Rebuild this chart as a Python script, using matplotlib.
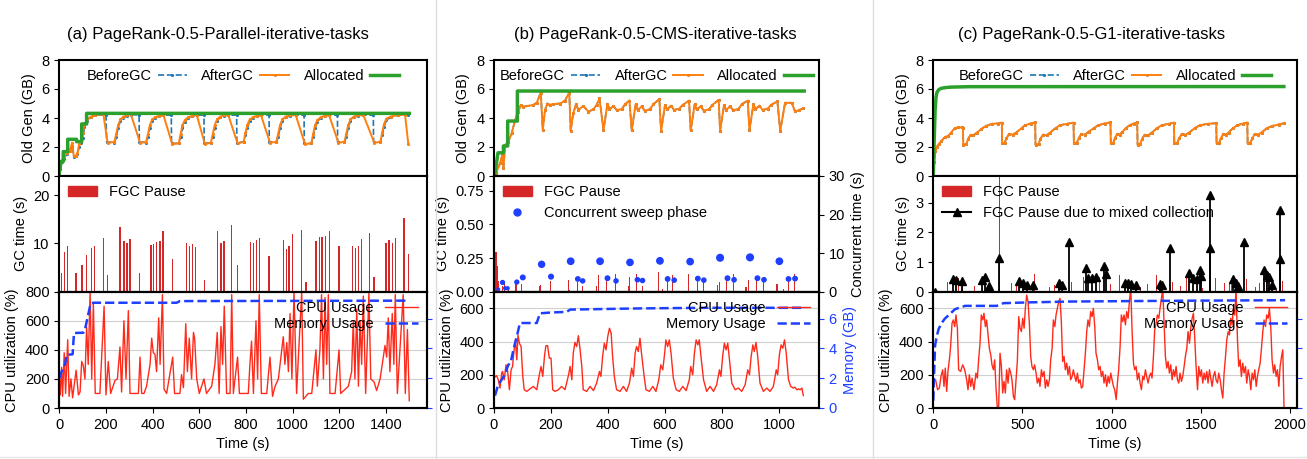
import matplotlib
matplotlib.use('Agg')
import matplotlib.pyplot as plt
from matplotlib.lines import Line2D
from matplotlib.patches import Patch

plt.rcParams['font.family'] = ['Liberation Sans', 'DejaVu Sans']
plt.rcParams['font.size'] = 10.5
plt.rcParams['axes.linewidth'] = 1.5

# ---------------- data: panel (a) Parallel ----------------
before_a_t = [0, 5, 12, 20, 32, 45, 55, 62, 70, 78, 85, 95, 102, 108, 120, 135, 155, 200, 203,
              236, 244, 252, 262, 275, 290, 307, 342, 343,
              372, 380, 388, 398, 410, 428, 446, 480, 481,
              512, 520, 528, 538, 552, 570, 589, 620, 621,
              650, 658, 666, 676, 690, 706, 724, 760, 761,
              790, 798, 806, 816, 830, 846, 864, 899, 900,
              930, 938, 946, 956, 970, 990, 1013, 1049, 1050,
              1080, 1088, 1096, 1106, 1120, 1138, 1156, 1192, 1193,
              1222, 1230, 1238, 1248, 1262, 1282, 1303, 1346, 1347,
              1376, 1384, 1392, 1402, 1420, 1450, 1496]
before_a_v = [0.0, 0.5, 1.0, 1.2, 1.5, 1.7, 2.1, 1.3, 1.35, 1.5, 2.0, 2.3, 2.6, 3.4, 3.8, 4.05, 4.2, 4.22, 2.35,
              2.3, 2.7, 3.3, 3.8, 4.0, 4.15, 4.22, 4.22, 2.35,
              2.3, 2.7, 3.3, 3.8, 4.0, 4.12, 4.2, 4.2, 2.25,
              2.25, 2.7, 3.3, 3.75, 4.0, 4.12, 4.2, 4.2, 2.25,
              2.3, 2.7, 3.3, 3.8, 4.05, 4.15, 4.2, 4.2, 2.3,
              2.35, 2.8, 3.3, 3.8, 4.0, 4.12, 4.2, 4.2, 2.35,
              2.35, 2.7, 3.3, 3.8, 4.05, 4.15, 4.2, 4.2, 2.25,
              2.25, 2.7, 3.3, 3.75, 4.0, 4.12, 4.2, 4.2, 2.35,
              2.35, 2.7, 3.3, 3.8, 4.05, 4.15, 4.2, 4.2, 2.35,
              2.35, 2.8, 3.4, 3.85, 4.05, 4.18, 4.22]
after_a_t = [0, 5, 12, 20, 32, 45, 55, 62, 70, 78, 85, 95, 102, 108, 120, 135, 155, 189,
             207, 236, 244, 252, 262, 275, 290, 307,
             346, 372, 380, 388, 398, 410, 428, 446,
             484, 512, 520, 528, 538, 552, 570, 589,
             624, 650, 658, 666, 676, 690, 706, 724,
             764, 790, 798, 806, 816, 830, 846, 864,
             903, 930, 938, 946, 956, 970, 990, 1013,
             1053, 1080, 1088, 1096, 1106, 1120, 1138, 1156,
             1196, 1222, 1230, 1238, 1248, 1262, 1282, 1303,
             1350, 1376, 1384, 1392, 1402, 1420, 1450, 1482, 1496]
after_a_v = [0.1, 0.6, 1.1, 1.3, 1.6, 1.75, 2.3, 1.4, 1.35, 1.6, 2.2, 2.4, 3.0, 3.6, 3.9, 4.1, 4.2, 4.25,
             2.3, 2.35, 2.9, 3.5, 3.9, 4.1, 4.18, 4.25,
             2.3, 2.35, 2.9, 3.5, 3.9, 4.05, 4.15, 4.22,
             2.2, 2.25, 2.9, 3.5, 3.85, 4.05, 4.15, 4.22,
             2.2, 2.3, 2.9, 3.5, 3.9, 4.1, 4.18, 4.22,
             2.25, 2.35, 3.0, 3.5, 3.9, 4.05, 4.15, 4.22,
             2.3, 2.35, 2.9, 3.5, 3.9, 4.1, 4.18, 4.22,
             2.2, 2.25, 2.9, 3.5, 3.85, 4.05, 4.15, 4.22,
             2.3, 2.35, 2.9, 3.5, 3.9, 4.1, 4.18, 4.22,
             2.3, 2.35, 3.0, 3.6, 3.95, 4.1, 4.2, 4.22, 2.2]
alloc_a_t = [0, 7, 17, 17, 36, 36, 74, 74, 96, 96, 117, 117, 1500]
alloc_a_v = [0.2, 1.0, 1.0, 1.68, 1.68, 2.53, 2.53, 2.37, 2.37, 3.59, 3.59, 4.32, 4.32]

gc_a_t = [10, 22, 36, 72, 97, 117, 139, 152, 189, 207, 260, 277, 290, 303, 343, 393, 405, 417, 432, 445,
          486, 546, 559, 572, 585, 622, 679, 693, 706, 739, 765, 820, 833, 846, 859, 899, 960, 973, 985, 999,
          1039, 1057, 1100, 1114, 1126, 1142, 1157, 1199, 1256, 1269, 1282, 1295, 1329, 1349, 1400, 1413,
          1427, 1440, 1477, 1497]
gc_a_v = [3.9, 8.3, 9.4, 3.8, 5.5, 7.7, 9.1, 9.4, 11.1, 3.5, 13.5, 10.6, 10.0, 11.0, 3.9, 9.6, 9.8, 10.3, 10.6, 12.6,
          6.8, 10.0, 9.5, 9.9, 9.3, 2.5, 12.5, 10.1, 10.6, 13.9, 5.5, 10.3, 10.2, 10.8, 11.1, 7.5, 10.8, 8.9, 9.5, 12.0,
          12.7, 2.0, 10.6, 11.3, 11.3, 11.6, 12.6, 9.4, 9.4, 9.1, 9.4, 11.0, 12.2, 3.0, 10.2, 10.7,
          10.0, 11.2, 15.2, 7.8]

cpu_a_t = [0, 4, 10, 14, 21, 27, 36, 42, 50, 57, 72, 82, 89, 96, 103, 110, 117, 124, 132, 139,
           146, 154, 174, 192, 200, 210, 220, 239, 249, 260, 267, 277, 286, 296, 303, 339, 346, 353, 363, 374,
           389, 396, 403, 410, 417, 426, 432, 442, 449, 460, 486, 494, 517, 524, 532, 542, 549, 557, 567, 575,
           580, 589, 600, 620, 631, 653, 667, 677, 685, 693, 700, 707, 717, 732, 739, 746, 764, 772, 810, 817,
           824, 832, 843, 850, 857, 866, 889, 903, 914, 925, 939, 960, 967, 975, 982, 989, 997, 1006, 1017, 1039,
           1046, 1067, 1082, 1100, 1106, 1117, 1124, 1132, 1139, 1146, 1153, 1160, 1182, 1199, 1206, 1239, 1253,
           1260, 1267, 1275, 1282, 1289, 1296, 1303, 1313, 1327, 1335, 1349, 1360, 1375, 1396, 1403, 1410, 1417,
           1427, 1434, 1440, 1449, 1474, 1483, 1492, 1500]
cpu_a_v = [220, 90, 280, 80, 380, 100, 470, 80, 200, 70, 260, 90, 110, 320, 290, 200, 560, 300, 800, 200,
           720, 100, 100, 700, 90, 320, 100, 190, 200, 420, 110, 600, 200, 670, 100, 100, 350, 100, 100, 150,
           300, 480, 380, 370, 250, 620, 300, 780, 130, 100, 350, 100, 100, 230, 140, 580, 250, 480, 200, 520,
           480, 200, 100, 200, 100, 150, 300, 520, 100, 560, 300, 700, 100, 100, 780, 100, 350, 100, 100, 300,
           460, 100, 600, 200, 780, 100, 100, 350, 80, 150, 200, 490, 300, 450, 250, 650, 200, 800, 100, 800,
           60, 100, 100, 400, 150, 400, 780, 200, 760, 300, 780, 100, 100, 400, 100, 150, 250,
           600, 200, 680, 150, 600, 300, 770, 100, 790, 200, 180, 120, 200, 430, 350, 620, 250,
           650, 300, 780, 100, 780, 100, 540, 50]
mem_a_t = [0, 10, 24, 32, 57, 63, 103, 110, 124, 134, 146, 503, 517, 1500]
mem_a_v = [2.0, 2.45, 2.9, 3.57, 3.6, 5.03, 5.05, 5.26, 6.27, 7.0, 7.06, 7.06, 7.17, 7.2]

# ---------------- data: panel (b) CMS ----------------
after_b_t = [0, 7, 21, 29, 33, 39, 50, 62, 74, 85, 94, 103, 138, 150, 164,
             171, 179, 187, 197, 208, 232, 249, 264,
             269, 278, 288, 296, 313, 331, 349, 360, 370,
             384, 398, 405, 419, 430, 448, 460, 475,
             483, 497, 504, 518, 529, 547, 559, 580,
             586, 600, 607, 621, 632, 650, 662, 684,
             690, 704, 711, 725, 736, 754, 766, 788,
             793, 807, 814, 828, 839, 857, 869, 890,
             896, 910, 917, 931, 942, 960, 972, 994,
             1004, 1021, 1044, 1056, 1071, 1085]
after_b_v = [0.0, 0.2, 0.87, 1.45, 0.53, 2.14, 2.37, 2.94, 3.86, 4.44, 4.9, 4.78, 4.9, 5.06, 5.75,
             3.17, 4.55, 5.0, 4.9, 4.96, 5.0, 5.2, 5.75,
             3.12, 4.32, 4.96, 4.55, 4.83, 4.44, 4.6, 4.9, 5.35,
             3.17, 4.99, 4.6, 4.83, 4.55, 4.6, 4.96, 5.2,
             3.17, 4.95, 4.55, 4.8, 4.5, 4.6, 4.95, 5.3,
             3.1, 4.9, 4.6, 4.85, 4.55, 4.65, 4.9, 5.2,
             3.15, 4.95, 4.6, 4.8, 4.5, 4.6, 4.9, 5.25,
             3.12, 4.9, 4.55, 4.8, 4.55, 4.6, 4.95, 5.2,
             3.15, 4.95, 4.6, 4.85, 4.55, 4.65, 4.9, 5.15,
             3.1, 5.05, 5.05, 4.45, 4.55, 4.67]
# BeforeGC and AfterGC coincide in this run
before_b_t = after_b_t
before_b_v = after_b_v
alloc_b_t = [2, 14, 33, 33, 48, 48, 82, 82, 1088]
alloc_b_v = [0, 1.6, 1.6, 2.07, 2.07, 3.79, 3.79, 5.86, 5.86]

gc_b_t = [7, 12, 16, 30, 36, 50, 77, 97, 159, 164, 199, 261, 264, 292, 310, 360, 368, 395, 425, 471,
          475, 501, 521, 577, 592, 609, 627, 682, 715, 735, 785, 790, 816, 840, 884, 892, 922, 945, 992, 995,
          1015, 1033, 1053]
gc_b_v = [0.297, 0.19, 0.08, 0.04, 0.07, 0.014, 0.06, 0.055, 0.045, 0.05, 0.08, 0.09, 0.01, 0.07, 0.045,
          0.04, 0.125, 0.08, 0.13, 0.04, 0.11, 0.13, 0.04, 0.145, 0.018, 0.085, 0.125, 0.13, 0.08, 0.075,
          0.05, 0.07, 0.085, 0.13, 0.035, 0.085, 0.085, 0.09, 0.055, 0.055, 0.018, 0.09, 0.135]
conc_t = [15, 30, 39, 48, 80, 101, 167, 200, 269, 294, 311, 372, 398, 428, 477, 503, 521, 582, 609, 632,
          688, 715, 736, 793, 819, 842, 898, 924, 947, 1001, 1033, 1056]
conc_v = [0.6, 2.4, 0.9, 0.9, 2.5, 3.7, 7.1, 3.9, 7.9, 3.3, 2.8, 7.9, 3.5, 2.8, 7.6, 3.1, 2.9, 8.0, 3.3, 3.0,
          7.8, 3.4, 3.0, 8.8, 3.5, 3.1, 8.9, 3.5, 3.1, 7.9, 3.3, 3.4]

cpu_b_t = [3.5, 9, 15, 21, 27, 30, 36, 42, 48, 54, 60, 65, 70, 75, 80, 84, 89, 95, 101, 106,
           115, 126, 138, 150, 159, 165, 171, 177, 182, 188, 194, 200, 206, 214, 226, 237, 249, 261, 267, 273,
           278, 284, 290, 296, 302, 308, 313, 325, 337, 349, 360, 370, 375, 381, 387, 393, 399, 405, 411, 416,
           422, 430, 442, 454, 465, 475, 483, 489, 495, 500, 506, 512, 518, 526, 533, 545, 557, 568, 578, 585,
           592, 598, 603, 609, 615, 621, 629, 639, 650, 662, 674, 685, 690, 697, 703, 709, 715, 720, 726, 735,
           746, 758, 770, 781, 791, 796, 802, 808, 814, 820, 826, 834, 846, 857, 869, 881, 890, 896, 902, 908,
           913, 919, 925, 933, 945, 957, 968, 980, 990, 995, 1001, 1007, 1013, 1019, 1025, 1033, 1041, 1050,
           1056, 1062, 1068, 1074, 1080, 1085]
cpu_b_v = [187, 195, 170, 120, 210, 220, 170, 260, 220, 110, 230, 250, 340, 410, 290, 440, 390, 370, 190, 110,
           100, 115, 130, 110, 200, 250, 190, 310, 375, 375, 300, 300, 110, 100, 110, 130, 110, 195, 250, 170,
           330, 395, 370, 435, 350, 250, 110, 100, 130, 105, 150, 220, 190, 310, 390, 350, 430, 480, 450, 310,
           190, 110, 100, 130, 100, 150, 240, 190, 330, 370, 340, 420, 320, 200, 110, 100, 130, 100, 170, 260,
           230, 320, 410, 370, 410, 330, 180, 110, 100, 130, 105, 170, 250, 200, 330, 410, 380, 410, 310, 170,
           100, 130, 100, 140, 230, 190, 310, 390, 350, 390, 290, 150, 110, 120, 100, 140, 230, 200, 310, 380,
           340, 395, 310, 150, 100, 120, 100, 130, 230, 200, 320, 380, 360, 410, 330, 170, 130, 120,
           125, 110, 115, 110, 120, 75]
mem_b_t = [3.5, 15, 27, 38.6, 50, 58, 68, 80, 91, 150, 161, 196.5, 255, 267, 512, 746, 1085]
mem_b_v = [0.83, 1.58, 1.9, 2.25, 2.9, 3.0, 3.9, 4.8, 5.7, 5.7, 6.35, 6.4, 6.45, 6.6, 6.68, 6.72, 6.72]

# ---------------- data: panel (c) G1 ----------------
after_c_t = [0, 5, 12, 19, 30, 45, 66, 84, 100, 121, 140, 159, 166,
             168, 185, 195, 210, 225, 245, 270, 295, 330, 360, 384,
             386, 400, 410, 425, 445, 465, 495, 515, 545, 571,
             573, 590, 600, 615, 635, 655, 685, 710, 750, 786,
             788, 805, 815, 830, 850, 870, 900, 925, 960, 993,
             995, 1010, 1018, 1030, 1045, 1060, 1080, 1100, 1125, 1143,
             1145, 1160, 1170, 1185, 1205, 1225, 1255, 1280, 1320, 1349,
             1351, 1368, 1378, 1393, 1413, 1435, 1465, 1495, 1540, 1586,
             1588, 1603, 1612, 1625, 1640, 1655, 1680, 1705, 1735, 1760,
             1762, 1778, 1788, 1802, 1820, 1840, 1870, 1900, 1935, 1966]
after_c_v = [0.0, 1.0, 1.7, 2.0, 2.2, 2.4, 2.7, 2.75, 3.0, 3.3, 3.35, 3.35, 3.3,
             2.15, 2.2, 2.55, 2.85, 2.8, 3.0, 3.25, 3.45, 3.6, 3.62, 3.68,
             2.25, 2.3, 2.6, 2.9, 2.85, 3.0, 3.3, 3.5, 3.62, 3.7,
             2.14, 2.2, 2.55, 2.85, 2.8, 3.0, 3.3, 3.5, 3.6, 3.68,
             2.25, 2.3, 2.6, 2.9, 2.85, 3.05, 3.3, 3.5, 3.62, 3.7,
             2.28, 2.3, 2.6, 2.9, 2.85, 3.05, 3.3, 3.5, 3.62, 3.7,
             2.17, 2.2, 2.55, 2.85, 2.8, 3.0, 3.3, 3.5, 3.6, 3.68,
             2.25, 2.3, 2.6, 2.9, 2.85, 3.0, 3.3, 3.5, 3.6, 3.64,
             2.25, 2.3, 2.6, 2.9, 2.85, 3.0, 3.3, 3.5, 3.62, 3.68,
             2.25, 2.3, 2.6, 2.9, 2.85, 3.0, 3.3, 3.45, 3.55, 3.64]
before_c_t = after_c_t
before_c_v = after_c_v
alloc_c_t = [0, 5, 10, 15, 20, 30, 45, 70, 100, 200, 1965]
alloc_c_v = [0, 2.5, 4.5, 5.4, 5.75, 5.95, 6.05, 6.1, 6.13, 6.16, 6.17]

gc_c_t = [79, 140, 165, 230, 256, 370, 439, 468, 565, 649, 677, 688, 776, 817, 841, 931, 995, 1043, 1069, 1088,
          1163, 1202, 1253, 1299, 1342, 1387, 1417, 1511, 1580, 1632, 1660, 1673, 1754, 1804, 1826, 1866, 1925, 1959]
gc_c_v = [0.34, 0.45, 0.48, 0.2, 0.45, 4.5, 0.3, 0.25, 0.58, 0.15, 0.22, 0.45, 0.33, 0.12, 0.48, 0.5, 0.25, 0.55,
          0.38, 0.35, 0.15, 0.25, 0.55, 0.3, 0.33, 0.2, 0.57, 0.12, 0.45, 0.28, 0.28, 0.45, 0.42, 0.15, 0.3, 0.38,
          0.05, 0.35]
mix_t = [9.5, 109, 127, 159, 271, 290, 310, 370, 482, 505, 523, 561, 707, 720, 761, 856, 869, 888, 912, 959,
         966, 1075, 1094, 1109, 1135, 1271, 1284, 1327, 1436, 1458, 1477, 1495, 1501, 1552, 1552, 1682, 1695,
         1707, 1742, 1851, 1869, 1882, 1901, 1944, 1944]
mix_v = [0.0, 0.42, 0.38, 0.36, 0.39, 0.5, 0.19, 1.13, 0.37, 0.28, 0.22, 0.22, 0.28, 0.22, 1.66, 0.81, 0.45,
         0.45, 0.5, 0.88, 0.59, 0.28, 0.28, 0.26, 0.22, 0.26, 0.22, 1.46, 0.62, 0.45, 0.42, 0.73, 0.53, 3.27,
         1.46, 0.42, 0.28, 0.2, 1.66, 0.73, 0.56, 0.5, 0.22, 2.76, 1.1]

cpu_c_t = [4, 13, 24, 34, 43, 52.5, 60, 67, 75, 82,
           90, 97, 105, 112, 120, 127, 135, 142, 153, 165,
           176, 187, 194.5, 202, 210, 217, 228, 239, 247, 254,
           262, 269, 277, 284, 292, 299, 307, 314, 322, 329,
           337, 344, 352, 359, 366.5, 374, 381, 389, 396, 404,
           411, 419, 426, 434, 441, 449, 456, 464, 471, 479,
           486, 494, 501, 509, 516, 523.5, 531, 538.5, 546, 553,
           561, 568, 576, 583, 591, 598, 606, 613, 621, 628,
           636, 643, 651, 658, 666, 673, 681, 688, 695.5, 703,
           710.5, 718, 725, 733, 740, 748, 755, 763, 770, 778,
           785, 793, 800, 808, 815, 823, 830, 837.5, 845, 852.5,
           860, 867, 875, 882, 890, 897, 905, 912, 920, 927,
           935, 942, 950, 957, 965, 972, 980, 987, 995, 1002,
           1010, 1017, 1025, 1032, 1039, 1047, 1054, 1062, 1069, 1077,
           1084, 1092, 1099, 1107, 1114, 1122, 1129, 1137, 1144, 1152,
           1159, 1166.5, 1174, 1181, 1189, 1196, 1204, 1211, 1219, 1226,
           1234, 1241, 1249, 1256, 1264, 1271, 1279, 1286, 1294, 1301,
           1308.6, 1316, 1323.5, 1331, 1338.5, 1346, 1353.5, 1361, 1368.5, 1376,
           1383, 1391, 1398, 1406, 1413, 1421, 1428, 1436, 1443, 1451,
           1458, 1466, 1473, 1481, 1488, 1496, 1503, 1510.5, 1518, 1525,
           1533, 1540, 1548, 1555, 1563, 1570, 1578, 1585, 1593, 1600,
           1608, 1615, 1622.6, 1630, 1638, 1645, 1653, 1660, 1667.5, 1675,
           1682, 1690, 1697, 1705, 1712, 1720, 1727, 1735, 1742, 1750,
           1757, 1765, 1772, 1780, 1787, 1795, 1802, 1810, 1817, 1824,
           1832, 1839.5, 1847, 1854, 1862, 1869, 1877, 1884, 1892, 1899,
           1907, 1914, 1922, 1929, 1937, 1944, 1952, 1959, 1966]
cpu_c_v = [161, 170, 110, 120, 190, 230, 130, 240, 100, 220,
           290, 370, 510, 530, 490, 560, 480, 230, 220, 260,
           230, 170, 110, 200, 130, 180, 110, 210, 180, 290,
           390, 560, 530, 570, 490, 530, 440, 360, 320, 260,
           230, 290, 110, 0, 10, 330, 260, 90, 160, 90,
           230, 150, 240, 210, 170, 70, 50, 170, 280, 550,
           480, 460, 540, 480, 600, 680, 640, 510, 310, 250,
           230, 260, 210, 150, 180, 130, 230, 190, 220, 120,
           170, 130, 170, 290, 360, 530, 490, 560, 600, 640,
           660, 510, 280, 310, 230, 270, 200, 250, 170, 190,
           230, 190, 160, 210, 150, 170, 120, 130, 230, 330,
           460, 530, 490, 580, 550, 600, 490, 330, 290, 230,
           250, 190, 220, 150, 200, 130, 190, 150, 210, 170,
           130, 110, 50, 150, 230, 370, 560, 520, 560, 500,
           580, 540, 640, 720, 470, 270, 230, 250, 170, 210,
           150, 110, 190, 170, 230, 190, 150, 190, 210, 180,
           310, 470, 510, 560, 540, 600, 660, 720, 510, 310,
           240, 280, 210, 260, 170, 230, 190, 250, 170, 150,
           210, 160, 190, 250, 310, 360, 460, 390, 480, 540,
           570, 410, 250, 110, 250, 190, 230, 150, 210, 170,
           220, 150, 230, 180, 130, 190, 220, 170, 150, 210,
           170, 110, 60, 210, 310, 410, 460, 440, 540, 500,
           600, 560, 720, 410, 250, 290, 190, 270, 210, 250,
           150, 230, 190, 110, 210, 170, 230, 130, 190, 230,
           270, 360, 460, 530, 490, 560, 540, 600, 480, 290,
           210, 260, 190, 230, 130, 250, 310, 350, 0]
mem_c_t = [0, 5, 10, 19, 30, 47, 65, 84, 122, 178, 355, 393, 523, 766, 1327, 1972]
mem_c_v = [0.5, 2.5, 4.2, 4.8, 5.3, 5.7, 6.0, 6.2, 6.63, 6.85, 6.85, 7.03, 7.08, 7.14, 7.19, 7.23]

titles = ['(a) PageRank-0.5-Parallel-iterative-tasks',
          '(b) PageRank-0.5-CMS-iterative-tasks',
          '(c) PageRank-0.5-G1-iterative-tasks']

BLUE = '#1f77b4'
ORANGE = '#ff7f0e'
GREEN = '#2ca02c'
RED = '#d62728'
CPU_RED = '#ff2a1a'
MEM_BLUE = '#1f3fff'

W, H = 1307, 459
fig = plt.figure(figsize=(W / 100, H / 100), dpi=100)


def box(l, r, t, b):
    return [l / W, 1 - b / H, (r - l) / W, (b - t) / H]


panels = [
    dict(l=59.3, r=427, xmax=1576, xticks=range(0, 1401, 200),
         before=(before_a_t, before_a_v), after=(after_a_t, after_a_v), alloc=(alloc_a_t, alloc_a_v),
         gc=(gc_a_t, gc_a_v), gcw=6, gcmax=24, gcticks=[10, 20],
         cpu=(cpu_a_t, cpu_a_v), cpumax=800, cputicks=range(0, 801, 200), mem=(mem_a_t, mem_a_v),
         title_x=218),
    dict(l=494, r=819, xmax=1140, xticks=range(0, 1001, 200),
         before=(before_b_t, before_b_v), after=(after_b_t, after_b_v), alloc=(alloc_b_t, alloc_b_v),
         gc=(gc_b_t, gc_b_v), gcw=4, gcmax=0.86, gcticks=[0, 0.25, 0.5, 0.75],
         cpu=(cpu_b_t, cpu_b_v), cpumax=700, cputicks=range(0, 601, 200), mem=(mem_b_t, mem_b_v),
         title_x=655),
    dict(l=933.3, r=1296.7, xmax=2037, xticks=range(0, 2001, 500),
         before=(before_c_t, before_c_v), after=(after_c_t, after_c_v), alloc=(alloc_c_t, alloc_c_v),
         gc=(gc_c_t, gc_c_v), gcw=5, gcmax=3.9, gcticks=[0, 1, 2, 3],
         cpu=(cpu_c_t, cpu_c_v), cpumax=700, cputicks=range(0, 601, 200), mem=(mem_c_t, mem_c_v),
         title_x=1092),
]

for i, p in enumerate(panels):
    ax1 = fig.add_axes(box(p['l'], p['r'], 60, 176))
    ax2 = fig.add_axes(box(p['l'], p['r'], 176, 291.7), sharex=ax1)
    ax3 = fig.add_axes(box(p['l'], p['r'], 291.7, 408), sharex=ax1)

    # old generation
    ax1.plot(*p['before'], '--', color=BLUE, lw=1.2, marker='.', ms=2.5, label='BeforeGC')
    ax1.plot(*p['after'], '-', color=ORANGE, lw=1.4, marker='.', ms=2.5, label='AfterGC')
    ax1.plot(*p['alloc'], '-', color=GREEN, lw=2.5, label='Allocated')
    ax1.set_ylim(0, 8)
    ax1.set_yticks([0, 2, 4, 6, 8])
    ax1.set_ylabel('Old Gen (GB)')
    ax1.legend(loc='upper center', ncol=3, frameon=False, markerfirst=False,
               columnspacing=1.0, handlelength=2.0, handletextpad=0.4, borderaxespad=0.2)

    # GC pauses
    ax2.bar(p['gc'][0], p['gc'][1], width=p['gcw'], color=RED, linewidth=0)
    ax2.set_ylim(0, p['gcmax'])
    ax2.set_yticks(p['gcticks'])
    ax2.set_ylabel('GC time (s)')
    handles = [Patch(color=RED, label='FGC Pause')]
    if i == 1:
        ax2.yaxis.set_major_formatter(matplotlib.ticker.FormatStrFormatter('%.2f'))
        ax2r = ax2.twinx()
        ax2r.scatter(conc_t, conc_v, s=[2.4 * v + 2 for v in conc_v], color=MEM_BLUE, zorder=3)
        ax2r.set_ylim(0, 30)
        ax2r.set_yticks([0, 10, 20, 30])
        ax2r.set_ylabel('Concurrent time (s)')
        handles.append(Line2D([], [], ls='none', marker='o', ms=5, color=MEM_BLUE,
                              label='Concurrent sweep phase'))
    if i == 2:
        ax2.vlines(mix_t, 0, mix_v, color='black', lw=1.3, zorder=3)
        ax2.plot(mix_t, mix_v, ls='none', marker='^', ms=6, color='black', zorder=4)
        handles.append(Line2D([], [], color='black', lw=1.5, marker='^', ms=6,
                              label='FGC Pause due to mixed collection'))
    ax2.legend(handles=handles, loc='upper left', frameon=False, borderaxespad=0.2)

    # CPU / memory
    cpu_line, = ax3.plot(*p['cpu'], color=CPU_RED, lw=1.0, label='CPU Usage')
    ax3.set_ylim(0, p['cpumax'])
    ax3.set_yticks(list(p['cputicks']))
    ax3.grid(axis='y', color='#d0d0d0', lw=0.8)
    ax3.set_axisbelow(True)
    ax3.set_ylabel('CPU utilization (%)')
    ax3.set_xlabel('Time (s)')
    ax3r = ax3.twinx()
    mem_line, = ax3r.plot(*p['mem'], '--', color=MEM_BLUE, lw=1.8, label='Memory Usage')
    ax3r.set_ylim(0, 7.8)
    ax3r.set_yticks([0, 2, 4, 6])
    ax3r.tick_params(axis='y', colors=MEM_BLUE)
    if i == 1:
        ax3r.set_ylabel('Memory (GB)', color=MEM_BLUE)
    else:
        ax3r.tick_params(axis='y', labelright=False)
    ax3r.legend(handles=[cpu_line, mem_line], loc='upper right', frameon=False,
                markerfirst=False, borderaxespad=0.25, labelspacing=0.15, handlelength=2.2)

    ax1.set_xlim(0, p['xmax'])
    ax3.set_xticks(list(p['xticks']))
    for ax in (ax1, ax2):
        ax.tick_params(axis='x', bottom=False, labelbottom=False)

    fig.text(p['title_x'] / W, 1 - 35 / H, titles[i], ha='center', va='center', fontsize=12)

# separators between the three sub-figures
for xs in (436, 873):
    fig.add_artist(Line2D([xs / W, xs / W], [0, 1], color='#dddddd', lw=1, transform=fig.transFigure))
fig.add_artist(Line2D([0, 1], [1 - 457 / H] * 2, color='#e6e6e6', lw=1, transform=fig.transFigure))

fig.savefig('out.png', dpi=100)
